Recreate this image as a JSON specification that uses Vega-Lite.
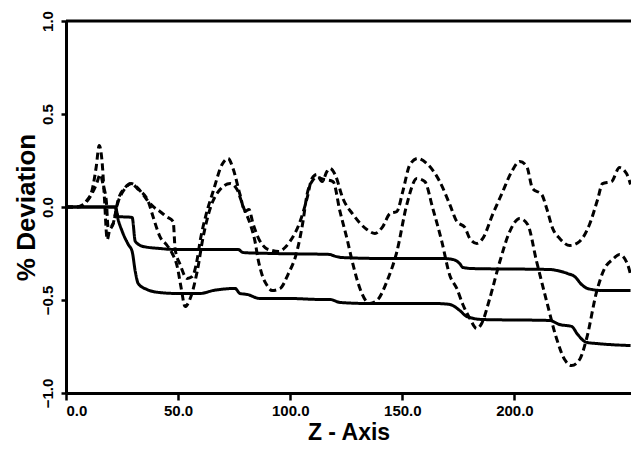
{
  "$schema": "https://vega.github.io/schema/vega-lite/v6.json",
  "autosize": {"type": "none"},
  "width": 565,
  "height": 372,
  "padding": {"left": 66, "top": 21, "right": 0, "bottom": 57},
  "background": "white",
  "config": {
    "view": {"stroke": null},
    "font": "Liberation Sans",
    "axis": {
      "domainColor": "black", "domainWidth": 3, "tickColor": "black", "tickWidth": 2.5,
      "labelColor": "black", "labelFont": "Liberation Sans", "labelFontWeight": "bold",
      "titleColor": "black", "titleFont": "Liberation Sans", "titleFontWeight": "bold",
      "grid": false
    }
  },
  "datasets": {
    "curves": [
      {"series": "A", "x": 0, "y": 0}, {"series": "A", "x": 22.0, "y": 0}, {"series": "A", "x": 23.3, "y": -0.051},
      {"series": "A", "x": 29.5, "y": -0.056}, {"series": "A", "x": 30.9, "y": -0.185}, {"series": "A", "x": 34.4, "y": -0.212},
      {"series": "A", "x": 41.9, "y": -0.223}, {"series": "A", "x": 47.8, "y": -0.228}, {"series": "A", "x": 59.8, "y": -0.228},
      {"series": "A", "x": 76.7, "y": -0.228}, {"series": "A", "x": 79.0, "y": -0.245}, {"series": "A", "x": 92.4, "y": -0.250},
      {"series": "A", "x": 117.7, "y": -0.255}, {"series": "A", "x": 119.1, "y": -0.261}, {"series": "A", "x": 123.5, "y": -0.272},
      {"series": "A", "x": 143.1, "y": -0.277}, {"series": "A", "x": 168.1, "y": -0.277}, {"series": "A", "x": 172.5, "y": -0.282},
      {"series": "A", "x": 175.6, "y": -0.304}, {"series": "A", "x": 177.0, "y": -0.325}, {"series": "A", "x": 181.4, "y": -0.331},
      {"series": "A", "x": 215.7, "y": -0.336}, {"series": "A", "x": 218.8, "y": -0.341}, {"series": "A", "x": 223.8, "y": -0.358},
      {"series": "A", "x": 226.9, "y": -0.374}, {"series": "A", "x": 230.0, "y": -0.417}, {"series": "A", "x": 232.6, "y": -0.438},
      {"series": "A", "x": 239.3, "y": -0.449}, {"series": "A", "x": 251.8, "y": -0.449},

      {"series": "B", "x": 0, "y": 0}, {"series": "B", "x": 22.0, "y": 0}, {"series": "B", "x": 22.9, "y": -0.051},
      {"series": "B", "x": 25.1, "y": -0.132}, {"series": "B", "x": 27.8, "y": -0.202}, {"series": "B", "x": 29.5, "y": -0.239},
      {"series": "B", "x": 30.9, "y": -0.347}, {"series": "B", "x": 32.2, "y": -0.411}, {"series": "B", "x": 36.2, "y": -0.444},
      {"series": "B", "x": 41.9, "y": -0.460}, {"series": "B", "x": 49.6, "y": -0.465}, {"series": "B", "x": 59.8, "y": -0.465},
      {"series": "B", "x": 65.6, "y": -0.449}, {"series": "B", "x": 75.4, "y": -0.438}, {"series": "B", "x": 77.6, "y": -0.465},
      {"series": "B", "x": 80.8, "y": -0.470}, {"series": "B", "x": 86.5, "y": -0.492}, {"series": "B", "x": 99.9, "y": -0.492},
      {"series": "B", "x": 113.3, "y": -0.497}, {"series": "B", "x": 117.7, "y": -0.497}, {"series": "B", "x": 122.2, "y": -0.513},
      {"series": "B", "x": 135.5, "y": -0.519}, {"series": "B", "x": 165.4, "y": -0.519}, {"series": "B", "x": 171.2, "y": -0.524},
      {"series": "B", "x": 175.6, "y": -0.556}, {"series": "B", "x": 178.8, "y": -0.589}, {"series": "B", "x": 185.9, "y": -0.605},
      {"series": "B", "x": 215.7, "y": -0.610}, {"series": "B", "x": 220.2, "y": -0.632}, {"series": "B", "x": 225.5, "y": -0.642},
      {"series": "B", "x": 228.2, "y": -0.685}, {"series": "B", "x": 232.2, "y": -0.728}, {"series": "B", "x": 236.7, "y": -0.734},
      {"series": "B", "x": 251.8, "y": -0.745},

      {"series": "C", "x": 0, "y": 0}, {"series": "C", "x": 4.1, "y": 0}, {"series": "C", "x": 7.7, "y": 0.013},
      {"series": "C", "x": 10.8, "y": 0.056}, {"series": "C", "x": 13.5, "y": 0.121}, {"series": "C", "x": 15.3, "y": 0.175},
      {"series": "C", "x": 16.6, "y": 0.116}, {"series": "C", "x": 18.0, "y": 0.030}, {"series": "C", "x": 18.8, "y": -0.110},
      {"series": "C", "x": 20.6, "y": -0.099}, {"series": "C", "x": 23.3, "y": 0.030}, {"series": "C", "x": 26.0, "y": 0.094},
      {"series": "C", "x": 29.1, "y": 0.126}, {"series": "C", "x": 31.8, "y": 0.105}, {"series": "C", "x": 34.4, "y": 0.067},
      {"series": "C", "x": 36.7, "y": 0.030}, {"series": "C", "x": 38.8, "y": 0.003}, {"series": "C", "x": 41.9, "y": -0.024},
      {"series": "C", "x": 44.7, "y": -0.051}, {"series": "C", "x": 47.8, "y": -0.078}, {"series": "C", "x": 48.7, "y": -0.228},
      {"series": "C", "x": 50.9, "y": -0.309}, {"series": "C", "x": 54.0, "y": -0.384}, {"series": "C", "x": 56.3, "y": -0.374},
      {"series": "C", "x": 58.5, "y": -0.282}, {"series": "C", "x": 59.8, "y": -0.185}, {"series": "C", "x": 62.5, "y": -0.040},
      {"series": "C", "x": 65.6, "y": 0.083}, {"series": "C", "x": 69.6, "y": 0.228}, {"series": "C", "x": 72.3, "y": 0.261},
      {"series": "C", "x": 74.5, "y": 0.207}, {"series": "C", "x": 77.6, "y": 0.067}, {"series": "C", "x": 79.9, "y": -0.024},
      {"series": "C", "x": 81.6, "y": -0.013}, {"series": "C", "x": 83.4, "y": -0.089}, {"series": "C", "x": 85.7, "y": -0.164},
      {"series": "C", "x": 88.8, "y": -0.218}, {"series": "C", "x": 91.9, "y": -0.234}, {"series": "C", "x": 95.0, "y": -0.239},
      {"series": "C", "x": 97.7, "y": -0.218}, {"series": "C", "x": 99.9, "y": -0.185}, {"series": "C", "x": 104.4, "y": -0.078},
      {"series": "C", "x": 107.5, "y": 0.046}, {"series": "C", "x": 109.7, "y": 0.153}, {"series": "C", "x": 111.9, "y": 0.175},
      {"series": "C", "x": 114.2, "y": 0.137}, {"series": "C", "x": 116.4, "y": 0.191}, {"series": "C", "x": 117.7, "y": 0.207},
      {"series": "C", "x": 120.0, "y": 0.175}, {"series": "C", "x": 123.5, "y": 0.046}, {"series": "C", "x": 128.0, "y": -0.040},
      {"series": "C", "x": 134.2, "y": -0.121}, {"series": "C", "x": 137.8, "y": -0.142}, {"series": "C", "x": 141.3, "y": -0.105},
      {"series": "C", "x": 144.5, "y": -0.035}, {"series": "C", "x": 147.6, "y": -0.024}, {"series": "C", "x": 150.2, "y": 0.083},
      {"series": "C", "x": 153.4, "y": 0.228}, {"series": "C", "x": 156.9, "y": 0.261}, {"series": "C", "x": 160.9, "y": 0.234},
      {"series": "C", "x": 166.7, "y": 0.137}, {"series": "C", "x": 171.2, "y": 0.013}, {"series": "C", "x": 174.3, "y": -0.078},
      {"series": "C", "x": 177.9, "y": -0.110}, {"series": "C", "x": 180.1, "y": -0.169}, {"series": "C", "x": 183.2, "y": -0.196},
      {"series": "C", "x": 185.9, "y": -0.169}, {"series": "C", "x": 190.3, "y": -0.040}, {"series": "C", "x": 194.8, "y": 0.083},
      {"series": "C", "x": 198.8, "y": 0.191}, {"series": "C", "x": 202.4, "y": 0.245}, {"series": "C", "x": 205.5, "y": 0.218},
      {"series": "C", "x": 208.1, "y": 0.099}, {"series": "C", "x": 212.2, "y": 0.067}, {"series": "C", "x": 214.4, "y": -0.008},
      {"series": "C", "x": 217.1, "y": -0.116}, {"series": "C", "x": 220.2, "y": -0.169}, {"series": "C", "x": 224.7, "y": -0.207},
      {"series": "C", "x": 229.1, "y": -0.185}, {"series": "C", "x": 233.5, "y": -0.094}, {"series": "C", "x": 237.1, "y": 0.040},
      {"series": "C", "x": 239.3, "y": 0.126}, {"series": "C", "x": 243.3, "y": 0.137}, {"series": "C", "x": 246.9, "y": 0.212},
      {"series": "C", "x": 250.0, "y": 0.180}, {"series": "C", "x": 251.8, "y": 0.121},

      {"series": "D", "x": 0, "y": 0}, {"series": "D", "x": 5.5, "y": 0}, {"series": "D", "x": 9.0, "y": 0.030},
      {"series": "D", "x": 11.7, "y": 0.094}, {"series": "D", "x": 13.5, "y": 0.218}, {"series": "D", "x": 14.8, "y": 0.331},
      {"series": "D", "x": 16.2, "y": 0.228}, {"series": "D", "x": 17.1, "y": 0.056}, {"series": "D", "x": 18.4, "y": -0.175},
      {"series": "D", "x": 19.3, "y": -0.132}, {"series": "D", "x": 21.1, "y": -0.089}, {"series": "D", "x": 23.3, "y": 0.040},
      {"series": "D", "x": 26.0, "y": 0.099}, {"series": "D", "x": 29.1, "y": 0.126}, {"series": "D", "x": 31.8, "y": 0.099},
      {"series": "D", "x": 36.7, "y": 0.030}, {"series": "D", "x": 38.8, "y": -0.051}, {"series": "D", "x": 41.9, "y": -0.159},
      {"series": "D", "x": 45.1, "y": -0.207}, {"series": "D", "x": 47.4, "y": -0.250}, {"series": "D", "x": 49.6, "y": -0.320},
      {"series": "D", "x": 51.4, "y": -0.438}, {"series": "D", "x": 53.1, "y": -0.535}, {"series": "D", "x": 55.4, "y": -0.492},
      {"series": "D", "x": 58.5, "y": -0.347}, {"series": "D", "x": 61.2, "y": -0.159}, {"series": "D", "x": 64.3, "y": -0.008},
      {"series": "D", "x": 68.7, "y": 0.094}, {"series": "D", "x": 73.2, "y": 0.126}, {"series": "D", "x": 76.3, "y": 0.094},
      {"series": "D", "x": 79.0, "y": 0.003}, {"series": "D", "x": 82.1, "y": -0.089}, {"series": "D", "x": 84.3, "y": -0.185},
      {"series": "D", "x": 85.7, "y": -0.282}, {"series": "D", "x": 87.4, "y": -0.363}, {"series": "D", "x": 89.7, "y": -0.422},
      {"series": "D", "x": 91.9, "y": -0.449}, {"series": "D", "x": 95.5, "y": -0.438}, {"series": "D", "x": 99.0, "y": -0.363},
      {"series": "D", "x": 103.0, "y": -0.239}, {"series": "D", "x": 105.7, "y": -0.078}, {"series": "D", "x": 107.5, "y": 0.067},
      {"series": "D", "x": 109.7, "y": 0.137}, {"series": "D", "x": 111.9, "y": 0.159}, {"series": "D", "x": 115.1, "y": 0.148},
      {"series": "D", "x": 119.1, "y": 0.137}, {"series": "D", "x": 122.2, "y": -0.024}, {"series": "D", "x": 125.3, "y": -0.169},
      {"series": "D", "x": 128.0, "y": -0.309}, {"series": "D", "x": 131.1, "y": -0.438}, {"series": "D", "x": 135.5, "y": -0.519},
      {"series": "D", "x": 139.1, "y": -0.497}, {"series": "D", "x": 143.1, "y": -0.401}, {"series": "D", "x": 147.6, "y": -0.239},
      {"series": "D", "x": 152.0, "y": 0.013}, {"series": "D", "x": 156.5, "y": 0.153}, {"series": "D", "x": 160.0, "y": 0.137},
      {"series": "D", "x": 163.6, "y": -0.008}, {"series": "D", "x": 167.6, "y": -0.185}, {"series": "D", "x": 171.2, "y": -0.368},
      {"series": "D", "x": 174.3, "y": -0.438}, {"series": "D", "x": 177.0, "y": -0.524}, {"series": "D", "x": 180.1, "y": -0.599},
      {"series": "D", "x": 183.2, "y": -0.653}, {"series": "D", "x": 185.4, "y": -0.626}, {"series": "D", "x": 189.0, "y": -0.492},
      {"series": "D", "x": 193.5, "y": -0.293}, {"series": "D", "x": 197.9, "y": -0.132}, {"series": "D", "x": 202.4, "y": -0.062},
      {"series": "D", "x": 205.9, "y": -0.094}, {"series": "D", "x": 209.9, "y": -0.293}, {"series": "D", "x": 214.4, "y": -0.508},
      {"series": "D", "x": 218.8, "y": -0.707}, {"series": "D", "x": 222.4, "y": -0.820}, {"series": "D", "x": 225.5, "y": -0.852},
      {"series": "D", "x": 229.1, "y": -0.820}, {"series": "D", "x": 232.2, "y": -0.707}, {"series": "D", "x": 236.7, "y": -0.454},
      {"series": "D", "x": 240.2, "y": -0.331}, {"series": "D", "x": 243.8, "y": -0.282}, {"series": "D", "x": 246.9, "y": -0.255},
      {"series": "D", "x": 250.5, "y": -0.309}, {"series": "D", "x": 251.8, "y": -0.363}
    ]
  },
  "layer": [
    {
      "data": {"name": "curves"},
      "mark": {"type": "line", "interpolate": "monotone", "strokeWidth": 3, "color": "black", "clip": true},
      "encoding": {
        "x": {
          "field": "x", "type": "quantitative",
          "scale": {"domain": [0, 252], "nice": false, "zero": false},
          "axis": {
            "values": [0, 50, 100, 150, 200], "format": ".1f", "title": "Z - Axis",
            "labelFontSize": 15, "labelDx": 5, "tickSize": 7, "labelPadding": 3,
            "titleFontSize": 23, "titlePadding": 3
          }
        },
        "y": {
          "field": "y", "type": "quantitative",
          "scale": {"domain": [-1, 1], "nice": false},
          "axis": {
            "values": [-1, -0.5, 0, 0.5, 1], "format": ".1f", "title": "% Deviation",
            "labelFontSize": 15, "labelAngle": -90, "labelAlign": "center", "labelBaseline": "bottom",
            "labelDx": 5, "tickSize": 5, "labelPadding": 6,
            "titleFontSize": 26, "titlePadding": 1
          }
        },
        "detail": {"field": "series", "type": "nominal"},
        "strokeDash": {
          "field": "series", "type": "nominal", "legend": null,
          "scale": {"domain": ["A", "B", "C", "D"], "range": [[1, 0], [1, 0], [7, 4], [7, 4]]}
        }
      }
    },
    {
      "data": {"values": [{}]},
      "mark": {"type": "rule", "color": "black", "strokeWidth": 3},
      "encoding": {"y": {"datum": 1}}
    }
  ]
}
